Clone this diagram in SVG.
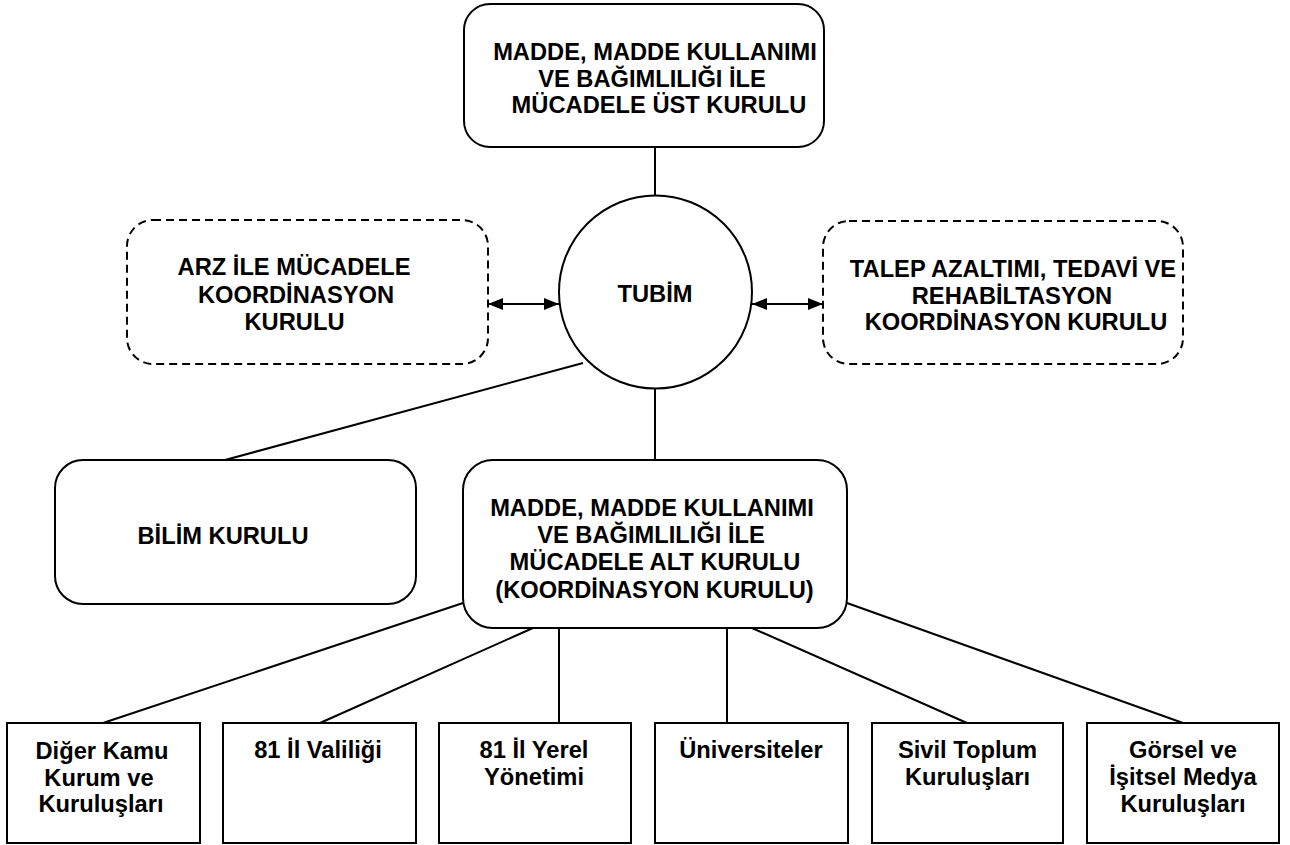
<svg xmlns="http://www.w3.org/2000/svg" width="1290" height="845" viewBox="0 0 1290 845">
<defs>
<marker id="arr" markerUnits="userSpaceOnUse" markerWidth="16" markerHeight="14" viewBox="0 0 16 14" refX="15" refY="7" orient="auto-start-reverse">
<path d="M0,1 L15,7 L0,13 Z" fill="#000"/>
</marker>
</defs>
<style>
.box{fill:#fff;stroke:#000;stroke-width:2}
.dash{fill:#fff;stroke:#000;stroke-width:2;stroke-dasharray:8,5}
.conn{stroke:#000;stroke-width:2;fill:none}
text{font-family:"Liberation Sans",Arial,sans-serif;font-weight:bold;font-size:23.7px;fill:#000;text-anchor:middle}
</style>
<rect width="1290" height="845" fill="#fff"/>
<g id="connectors">
<line class="conn" x1="655" y1="147" x2="655" y2="196"/>
<line class="conn" x1="488" y1="304" x2="559" y2="304" marker-start="url(#arr)" marker-end="url(#arr)"/>
<line class="conn" x1="752" y1="304" x2="823" y2="304" marker-start="url(#arr)" marker-end="url(#arr)"/>
<line class="conn" x1="583" y1="363" x2="225" y2="460"/>
<line class="conn" x1="655" y1="388" x2="655" y2="460"/>
<line class="conn" x1="463" y1="603" x2="103" y2="723"/>
<line class="conn" x1="533" y1="628" x2="320" y2="723"/>
<line class="conn" x1="559" y1="628" x2="559" y2="723"/>
<line class="conn" x1="727" y1="628" x2="727" y2="723"/>
<line class="conn" x1="752" y1="628" x2="967" y2="723"/>
<line class="conn" x1="847" y1="603" x2="1183" y2="723"/>
</g>
<g id="ust-kurul">
<rect class="box" x="464" y="4" width="360" height="143" rx="26" ry="26"/>
<text x="655" y="60">MADDE, MADDE KULLANIMI</text>
<text x="652" y="86.5">VE BAĞIMLILIĞI İLE</text>
<text x="659" y="113">MÜCADELE ÜST KURULU</text>
</g>
<g id="arz">
<rect class="dash" x="127" y="220" width="361" height="144" rx="26" ry="26"/>
<text x="294" y="275">ARZ İLE MÜCADELE</text>
<text x="296" y="303">KOORDİNASYON</text>
<text x="294.5" y="330">KURULU</text>
</g>
<g id="tubim">
<circle class="box" cx="655.5" cy="292" r="96.5"/>
<text x="655" y="302">TUBİM</text>
</g>
<g id="talep">
<rect class="dash" x="823" y="221" width="360" height="143" rx="26" ry="26"/>
<text x="1013" y="277">TALEP AZALTIMI, TEDAVİ VE</text>
<text x="1012" y="303.5">REHABİLTASYON</text>
<text x="1016" y="330">KOORDİNASYON KURULU</text>
</g>
<g id="bilim">
<rect class="box" x="55" y="460" width="361" height="144" rx="28" ry="28"/>
<text x="223" y="544">BİLİM KURULU</text>
</g>
<g id="alt-kurul">
<rect class="box" x="463" y="460" width="384" height="168" rx="30" ry="30"/>
<text x="652" y="516">MADDE, MADDE KULLANIMI</text>
<text x="651" y="543">VE BAĞIMLILIĞI İLE</text>
<text x="655" y="570">MÜCADELE ALT KURULU</text>
<text x="654.5" y="598">(KOORDİNASYON KURULU)</text>
</g>
<g id="diger-kamu">
<rect class="box" x="7" y="723" width="193" height="120"/>
<text x="102" y="759">Diğer Kamu</text>
<text x="99" y="785.5">Kurum ve</text>
<text x="101" y="812">Kuruluşları</text>
</g>
<g id="valilik">
<rect class="box" x="223" y="723" width="193" height="120"/>
<text x="318" y="758">81 İl Valiliği</text>
</g>
<g id="yerel">
<rect class="box" x="439" y="723" width="192" height="120"/>
<text x="534" y="758">81 İl Yerel</text>
<text x="534" y="785">Yönetimi</text>
</g>
<g id="universiteler">
<rect class="box" x="655" y="723" width="193" height="120"/>
<text x="751" y="758">Üniversiteler</text>
</g>
<g id="stk">
<rect class="box" x="872" y="723" width="191" height="120"/>
<text x="967.5" y="758">Sivil Toplum</text>
<text x="967.5" y="785">Kuruluşları</text>
</g>
<g id="medya">
<rect class="box" x="1087" y="723" width="192" height="120"/>
<text x="1183" y="758">Görsel ve</text>
<text x="1183" y="785">İşitsel Medya</text>
<text x="1183" y="812">Kuruluşları</text>
</g>
</svg>
